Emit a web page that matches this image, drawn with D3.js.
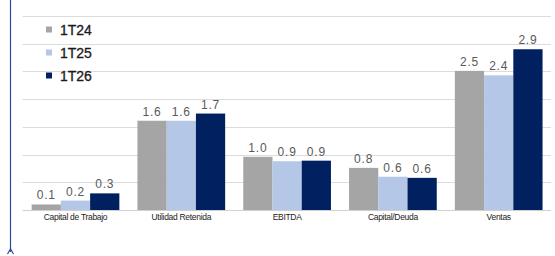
<!DOCTYPE html>
<html><head><meta charset="utf-8">
<script src="https://cdn.jsdelivr.net/npm/d3@7"></script>
<style>body{margin:0;background:#fff}svg{display:block}</style>
</head><body><div id="c"></div>
<script>
const categories = ["Capital de Trabajo","Utilidad Retenida","EBITDA","Capital/Deuda","Ventas"];
const seriesNames = ["1T24","1T25","1T26"];
const s1T24 = [0.10, 1.61, 0.96, 0.76, 2.51];
const s1T25 = [0.17, 1.61, 0.88, 0.60, 2.43];
const s1T26 = [0.30, 1.74, 0.89, 0.58, 2.90];
const yTicks = [0,0.5,1,1.5,2,2.5,3,3.5];
const colors = ["#a5a5a5","#b4c7e7","#002060"];
const series = [s1T24,s1T25,s1T26];

const W=555,H=256;
const svg=d3.select("#c").append("svg").attr("width",W).attr("height",H);
const x=d3.scaleBand().domain(categories).range([22.6,551.6]).paddingInner(0.171).paddingOuter(0.0855);
const xs=d3.scaleBand().domain(seriesNames).range([0,x.bandwidth()]);
const y=d3.scaleLinear().domain([0,3.5]).range([210,16]);

// gridlines
svg.append("g").selectAll("line").data(yTicks).join("line")
  .attr("x1",22.6).attr("x2",551).attr("y1",d=>Math.round(y(d))+0.5).attr("y2",d=>Math.round(y(d))+0.5)
  .attr("stroke",d=>d===0?"#d0d0d0":"#dcdcdc").attr("stroke-width",1);

// bars
const g=svg.append("g");
series.forEach((s,i)=>{
  g.append("g").selectAll("rect").data(s).join("rect")
    .attr("x",(d,j)=>x(categories[j])+xs(seriesNames[i]))
    .attr("width",xs.bandwidth())
    .attr("y",d=>y(d)).attr("height",d=>y(0)-y(d))
    .attr("fill",colors[i]);
  g.append("g").selectAll("text").data(s).join("text")
    .attr("x",(d,j)=>x(categories[j])+xs(seriesNames[i])+xs.bandwidth()/2)
    .attr("y",d=>y(d)-5)
    .attr("text-anchor","middle")
    .attr("font-family","Liberation Sans, Arial, sans-serif").attr("font-size",12)
    .attr("letter-spacing","0.8px")
    .attr("fill","#595959")
    .text(d=>d.toFixed(1));
});

// x axis labels
const xAxis=d3.axisBottom(x).tickSize(0).tickPadding(0);
const ax=svg.append("g").attr("transform","translate(0,214)").call(xAxis);
ax.select(".domain").remove();
ax.selectAll("text").attr("font-family","Liberation Sans Narrow, Liberation Sans, Arial, sans-serif")
  .attr("font-size",8.5).attr("letter-spacing","-0.3px").attr("fill","#222").attr("dy","0.71em");

// legend
const lg=svg.append("g");
seriesNames.forEach((n,i)=>{
  const yy=29.5+i*23;
  lg.append("rect").attr("x",46).attr("y",yy-3).attr("width",6).attr("height",6).attr("fill",colors[i]);
  lg.append("text").attr("x",60).attr("y",yy+5)
    .attr("font-family","Liberation Sans, Arial, sans-serif").attr("font-size",14).attr("font-weight","normal")
    .attr("stroke","#1a1a1a").attr("stroke-width",0.3)
    .attr("fill","#1a1a1a").text(n);
});

// left vertical line with arrow
svg.append("line").attr("x1",10.5).attr("x2",10.5).attr("y1",0).attr("y2",252).attr("stroke","#2e4a9a").attr("stroke-width",1.2);
svg.append("path").attr("d","M7.5,254 L10.5,249 L13.5,254").attr("fill","none").attr("stroke","#2e4a9a").attr("stroke-width",1.2);
</script></body></html>
